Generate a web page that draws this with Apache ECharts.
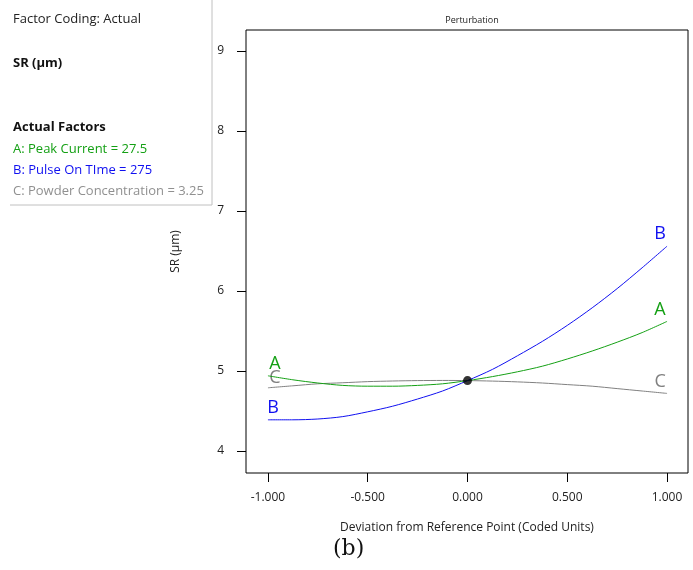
<!DOCTYPE html>
<html><head><meta charset="utf-8">
<script src="https://cdn.jsdelivr.net/npm/echarts@6/dist/echarts.min.js"></script>
<style>html,body{margin:0;padding:0;background:#fff}#c{width:693px;height:570px}</style>
</head><body><div id="c"></div>
<script>
var xs = [-1, -0.875, -0.75, -0.625, -0.5, -0.375, -0.25, -0.125, 0, 0.125, 0.25, 0.375, 0.5, 0.625, 0.75, 0.875, 1];
var seriesA = [4.94, 4.89, 4.85, 4.82, 4.81, 4.81, 4.82, 4.84, 4.88, 4.93, 4.99, 5.06, 5.15, 5.25, 5.36, 5.48, 5.62];
var seriesB = [4.39, 4.39, 4.40, 4.43, 4.49, 4.56, 4.65, 4.75, 4.88, 5.02, 5.19, 5.37, 5.57, 5.79, 6.03, 6.29, 6.56];
var seriesC = [4.79, 4.815, 4.84, 4.853, 4.867, 4.875, 4.88, 4.882, 4.88, 4.874, 4.864, 4.85, 4.83, 4.81, 4.78, 4.75, 4.72];
var refPoint = [0, 4.88];
var yTicks = [4, 5, 6, 7, 8, 9];
var xTicks = [-1, -0.5, 0, 0.5, 1];
var legendLines = ["Factor Coding: Actual", "SR (µm)", "Actual Factors",
  "A: Peak Current = 27.5", "B: Pulse On TIme = 275", "C: Powder Concentration = 3.25"];

var FONT = '"Open Sans", "Noto Sans", sans-serif';
function build(vals, name, color, offL, offR) {
  return vals.map(function (v, i) {
    var item = { value: [xs[i], v] };
    if (i === 0 || i === vals.length - 1) {
      item.label = { show: true, position: 'top', formatter: name, color: color,
        fontSize: 18, fontFamily: FONT, offset: i === 0 ? offL : offR };
    }
    return item;
  });
}
var chart = echarts.init(document.getElementById('c'));
chart.setOption({
  animation: false,
  title: { text: 'Perturbation', left: 467, top: 11, textAlign: 'center',
    textStyle: { fontSize: 9, fontWeight: 'normal', color: '#222', fontFamily: FONT } },
  grid: { left: 246, top: 30, right: 5, bottom: 97, show: true, borderColor: '#000', borderWidth: 1 },
  xAxis: { type: 'value', min: -1.11, max: 1.105,
    name: 'Deviation from Reference Point (Coded Units)', nameLocation: 'middle', nameGap: 49,
    nameTextStyle: { fontSize: 12, color: '#222', fontFamily: FONT },
    axisLine: { show: false, onZero: false }, splitLine: { show: false },
    axisTick: { show: true, length: 9, customValues: xTicks, lineStyle: { color: '#000' } },
    axisLabel: { customValues: xTicks, margin: 19, fontSize: 12, color: '#222', fontFamily: FONT,
      formatter: function (v) { return v.toFixed(3); } } },
  yAxis: { type: 'value', min: 3.725, max: 9.2625,
    name: 'SR (µm)', nameLocation: 'middle', nameGap: 64, nameRotate: 90,
    nameTextStyle: { fontSize: 12, color: '#222', fontFamily: FONT },
    axisLine: { show: false, onZero: false }, splitLine: { show: false },
    axisTick: { show: true, length: 9, customValues: yTicks, lineStyle: { color: '#000' } },
    axisLabel: { customValues: yTicks, margin: 22, fontSize: 12, color: '#222', fontFamily: FONT } },
  series: [
    { type: 'line', smooth: 0.3, symbol: 'circle', symbolSize: 0, showAllSymbol: true,
      data: build(seriesC, 'C', '#808080', [7, 4], [-7, 2]),
      lineStyle: { color: '#808080', width: 1 }, itemStyle: { color: '#808080' }, z: 2 },
    { type: 'line', smooth: 0.3, symbol: 'circle', symbolSize: 0, showAllSymbol: true,
      data: build(seriesA, 'A', '#14a014', [7, 2], [-7, 2]),
      lineStyle: { color: '#14a014', width: 1 }, itemStyle: { color: '#14a014' }, z: 3 },
    { type: 'line', smooth: 0.3, symbol: 'circle', symbolSize: 0, showAllSymbol: true,
      data: build(seriesB, 'B', '#1010f0', [5, 2], [-7, 2]),
      lineStyle: { color: '#1010f0', width: 1 }, itemStyle: { color: '#1010f0' }, z: 4 },
    { type: 'scatter', data: [refPoint], symbolSize: 9, itemStyle: { color: '#000' }, z: 10 }
  ],
  graphic: [
    { type: 'polyline', shape: { points: [[212, 0], [212, 205], [10, 205]] },
      style: { stroke: '#c0c0c0', lineWidth: 1, fill: null } },
    { type: 'text', left: 13, top: 13, style: { text: legendLines[0], fontSize: 13, fill: '#222', fontFamily: FONT } },
    { type: 'text', left: 13, top: 57, style: { text: legendLines[1], fontSize: 13, fontWeight: 'bold', fill: '#111', fontFamily: FONT } },
    { type: 'text', left: 13, top: 121, style: { text: legendLines[2], fontSize: 13, fontWeight: 'bold', fill: '#111', fontFamily: FONT } },
    { type: 'text', left: 13, top: 143, style: { text: legendLines[3], fontSize: 13, fill: '#14a014', fontFamily: FONT } },
    { type: 'text', left: 13, top: 164, style: { text: legendLines[4], fontSize: 13, fill: '#1010f0', fontFamily: FONT } },
    { type: 'text', left: 13, top: 185, style: { text: legendLines[5], fontSize: 13, fill: '#909090', fontFamily: FONT } },
    { type: 'text', left: 333, top: 538, style: { text: '(b)', fontSize: 22, fill: '#111', fontFamily: '"DejaVu Serif", "Liberation Serif", serif' } }
  ]
});
</script></body></html>
